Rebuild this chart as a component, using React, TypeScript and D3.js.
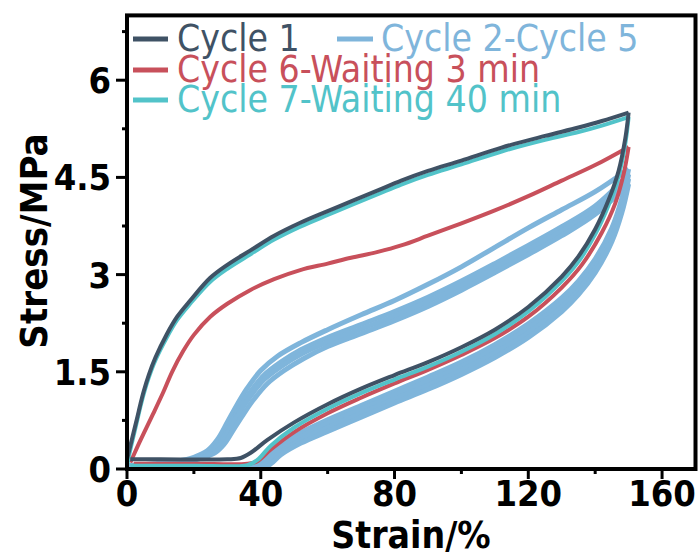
import React from "react";
import * as d3 from "d3";

type P = [number, number];

// ---- data (strain %, stress MPa) ----
const cycle1Load: P[] = [[0,0.15],[1,0.36],[2,0.57],[3,0.78],[4,1.0],[5,1.2],[6.5,1.45],[8.5,1.72],[11.9,2.08],[15,2.35],[18.9,2.6],[24.9,2.95],[30,3.15],[36.8,3.37],[44,3.6],[51.8,3.8],[60,3.98],[67,4.13],[75,4.3],[82,4.45],[90,4.6],[100,4.76],[112,4.96],[125,5.14],[135,5.27],[142,5.37],[150,5.5]];
const cycle1Unload: P[] = [[150,5.5],[149,5.1],[147,4.6],[144,4.15],[140,3.7],[135,3.28],[130,2.97],[120,2.5],[110,2.15],[100,1.88],[90,1.65],[80,1.45],[70,1.24],[60,1.0],[50,0.72],[42,0.45],[37,0.25],[34,0.17],[30,0.15],[10,0.15],[1,0.15]];

const cycle7Load: P[] = [[0,0.05],[1,0.3],[2,0.52],[3,0.74],[4,0.96],[5,1.16],[6.5,1.41],[8.5,1.68],[11.9,2.03],[15,2.3],[18.9,2.55],[24.9,2.89],[30,3.09],[36.8,3.31],[44,3.54],[51.8,3.74],[60,3.92],[67,4.07],[75,4.24],[82,4.39],[90,4.54],[100,4.7],[112,4.9],[125,5.08],[135,5.2],[142,5.3],[150,5.43]];
const cycle7Unload: P[] = [[150,5.43],[149,5.02],[147,4.52],[144,4.07],[140,3.62],[135,3.2],[130,2.9],[120,2.43],[110,2.08],[100,1.81],[90,1.58],[80,1.38],[70,1.17],[60,0.93],[50,0.64],[43,0.36],[39,0.14],[36,0.06],[20,0.05],[1,0.05]];

const cycle6Load: P[] = [[1,0.1],[3,0.33],[5,0.55],[7.8,0.85],[10.8,1.18],[13.5,1.5],[16.8,1.82],[20,2.07],[24.9,2.35],[30,2.55],[36.8,2.76],[44,2.93],[51.8,3.07],[60,3.17],[67,3.26],[75,3.35],[82,3.45],[90,3.6],[100,3.79],[110,3.99],[120,4.21],[130,4.45],[140,4.69],[150,4.97]];
const cycle6Unload: P[] = [[150,4.97],[148.5,4.55],[146,4.1],[142,3.65],[136,3.15],[130,2.8],[120,2.35],[110,2.02],[100,1.76],[90,1.53],[80,1.32],[70,1.1],[60,0.86],[50,0.57],[43,0.3],[39,0.12],[36,0.08],[20,0.08],[2,0.08]];

const cycle2to5Load: P[][] = [
  [[0,0.05],[8,0.08],[15,0.12],[20,0.18],[24,0.28],[27,0.45],[30,0.72],[33,1.0],[36,1.25],[40,1.52],[45,1.74],[52,1.95],[60,2.15],[70,2.38],[80,2.6],[90,2.85],[100,3.12],[110,3.42],[120,3.72],[130,4.0],[140,4.28],[150,4.63]],
  [[0,0.04],[8,0.07],[15,0.11],[20,0.16],[25,0.26],[28,0.42],[31,0.7],[34,0.97],[37,1.2],[41,1.45],[46,1.65],[52,1.84],[60,2.03],[70,2.23],[80,2.43],[90,2.65],[100,2.9],[110,3.17],[120,3.45],[130,3.74],[140,4.06],[150,4.55]],
  [[0,0.03],[8,0.06],[15,0.1],[21,0.16],[25,0.24],[28,0.38],[31,0.64],[34,0.9],[37,1.13],[41,1.38],[46,1.58],[52,1.77],[60,1.96],[70,2.16],[80,2.36],[90,2.58],[100,2.83],[110,3.1],[120,3.38],[130,3.67],[140,4.0],[150,4.48]],
  [[0,0.02],[8,0.05],[15,0.09],[21,0.15],[26,0.24],[29,0.38],[32,0.62],[35,0.86],[38,1.08],[42,1.32],[47,1.52],[53,1.71],[60,1.89],[70,2.09],[80,2.29],[90,2.51],[100,2.76],[110,3.03],[120,3.31],[130,3.6],[140,3.93],[150,4.4]],
];
const cycle2to5Unload: P[][] = [
  [[150,4.63],[148,4.18],[145,3.72],[140,3.24],[135,2.9],[130,2.64],[120,2.24],[110,1.92],[100,1.65],[90,1.42],[80,1.2],[70,0.98],[60,0.76],[52,0.56],[45,0.34],[40,0.15],[38,0.05],[30,0.03],[15,0.02],[0,0.02]],
  [[150,4.55],[148,4.1],[145,3.65],[140,3.17],[135,2.83],[130,2.57],[120,2.17],[110,1.85],[100,1.58],[90,1.35],[80,1.14],[70,0.92],[60,0.7],[52,0.5],[45,0.29],[41,0.12],[39,0.04],[30,0.03],[15,0.02],[0,0.02]],
  [[150,4.48],[148,4.03],[145,3.58],[140,3.1],[135,2.76],[130,2.5],[120,2.1],[110,1.79],[100,1.52],[90,1.29],[80,1.08],[70,0.86],[60,0.64],[52,0.45],[46,0.26],[42,0.1],[40,0.03],[30,0.02],[15,0.02],[0,0.02]],
  [[150,4.4],[148,3.96],[145,3.51],[140,3.03],[135,2.69],[130,2.43],[120,2.03],[110,1.72],[100,1.46],[90,1.23],[80,1.02],[70,0.8],[60,0.58],[52,0.4],[46,0.22],[43,0.08],[41,0.02],[30,0.02],[15,0.02],[0,0.02]],
];

const xTicks = [0, 40, 80, 120, 160];
const xMinor = [20, 60, 100, 140];
const yTicks = [0, 1.5, 3, 4.5, 6];
const yTickLabels = ["0", "1.5", "3", "4.5", "6"];
const yMinor = [0.75, 2.25, 3.75, 5.25, 6.75];

const legendNames = ["Cycle 1", "Cycle 2-Cycle 5", "Cycle 6-Waiting 3 min", "Cycle 7-Waiting 40 min"];
const colors = { c1: "#3f5265", c25: "#7fb5db", c6: "#c8505b", c7: "#52c3c9" };

const W = 699, H = 557;
const x = d3.scaleLinear().domain([0, 170]).range([127, 695.5]);
const y = d3.scaleLinear().domain([0, 7]).range([469, 15.4]);
const line = d3.line<P>().x(d => x(d[0])).y(d => y(d[1])).curve(d3.curveCatmullRom.alpha(0.5));

const font = "'DejaVu Sans', Verdana, sans-serif";
const cond = { fontStretch: "condensed" } as React.CSSProperties;

export default function App() {
  const left = x(0), right = x(170), top = y(7), bottom = y(0);
  return (
    <svg width={W} height={H} style={{ position: "absolute", left: 0, top: 0, background: "#fff" }}>
      <rect width={W} height={H} fill="#fff" />
      {/* curves */}
      {cycle2to5Load.map((d, i) => (
        <path key={"bl" + i} d={line(d) || ""} fill="none" stroke={colors.c25} strokeWidth={5} />
      ))}
      {cycle2to5Unload.map((d, i) => (
        <path key={"bu" + i} d={line(d) || ""} fill="none" stroke={colors.c25} strokeWidth={5} />
      ))}
      <path d={line(cycle6Load) || ""} fill="none" stroke={colors.c6} strokeWidth={4} />
      <path d={line(cycle6Unload) || ""} fill="none" stroke={colors.c6} strokeWidth={4} />
      <path d={line(cycle7Load) || ""} fill="none" stroke={colors.c7} strokeWidth={4} />
      <path d={line(cycle7Unload) || ""} fill="none" stroke={colors.c7} strokeWidth={4} />
      <path d={line(cycle1Load) || ""} fill="none" stroke={colors.c1} strokeWidth={4} />
      <path d={line(cycle1Unload) || ""} fill="none" stroke={colors.c1} strokeWidth={4} />

      {/* frame */}
      <rect x={left} y={top} width={right - left} height={bottom - top} fill="none" stroke="#000" strokeWidth={4} />

      {/* x ticks */}
      {xTicks.map(t => (
        <line key={"xt" + t} x1={x(t)} x2={x(t)} y1={bottom} y2={bottom + 10} stroke="#000" strokeWidth={3} />
      ))}
      {xMinor.map(t => (
        <line key={"xm" + t} x1={x(t)} x2={x(t)} y1={bottom} y2={bottom + 5} stroke="#000" strokeWidth={3} />
      ))}
      {xTicks.map(t => (
        <text key={"xl" + t} x={x(t)} y={506} textAnchor="middle" fontFamily={font} fontWeight="bold"
          fontSize={36} style={cond} fill="#000">{t}</text>
      ))}
      {/* y ticks */}
      {yTicks.map(t => (
        <line key={"yt" + t} x1={left - 11} x2={left} y1={y(t)} y2={y(t)} stroke="#000" strokeWidth={3} />
      ))}
      {yMinor.map(t => (
        <line key={"ym" + t} x1={left - 5} x2={left} y1={y(t)} y2={y(t)} stroke="#000" strokeWidth={3} />
      ))}
      {yTicks.map((t, i) => (
        <text key={"yl" + t} x={111} y={y(t) + 13} textAnchor="end" fontFamily={font} fontWeight="bold"
          fontSize={36} style={cond} fill="#000">{yTickLabels[i]}</text>
      ))}

      {/* axis titles */}
      <text x={411} y={548} textAnchor="middle" fontFamily={font} fontWeight="bold" fontSize={37}
        style={cond} fill="#000">Strain/%</text>
      <text transform={`translate(47,241) rotate(-90)`} textAnchor="middle" fontFamily={font} fontWeight="bold"
        fontSize={38} style={cond} fill="#000">Stress/MPa</text>

      {/* legend */}
      {[
        { lx: 133, lx2: 168, ly: 39, tx: 177, ty: 51, name: legendNames[0], c: colors.c1 },
        { lx: 337, lx2: 373, ly: 39, tx: 381, ty: 51, name: legendNames[1], c: colors.c25 },
        { lx: 133, lx2: 168, ly: 70, tx: 177, ty: 82, name: legendNames[2], c: colors.c6 },
        { lx: 133, lx2: 168, ly: 100, tx: 177, ty: 112, name: legendNames[3], c: colors.c7 },
      ].map((l, i) => (
        <g key={"lg" + i}>
          <line x1={l.lx} x2={l.lx2} y1={l.ly} y2={l.ly} stroke={l.c} strokeWidth={5} />
          <text x={l.tx} y={l.ty} fontFamily={font} fontSize={37} style={cond} fill={l.c}>{l.name}</text>
        </g>
      ))}
    </svg>
  );
}
